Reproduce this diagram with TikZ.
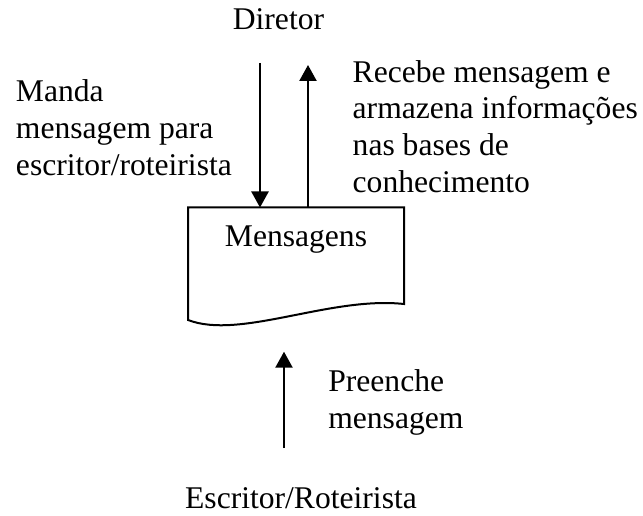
\documentclass[tikz,border=0pt]{standalone}
\usepackage{fontspec}
\setmainfont{Liberation Serif}
\usetikzlibrary{arrows.meta}
\begin{document}
\begin{tikzpicture}[x=1pt,y=-1pt,
  lbl/.style={inner sep=0pt,outer sep=0pt,font=\fontsize{31.6}{36.8}\selectfont,align=left},
  arr/.style={line width=2.3pt,-{Triangle[width=17pt,length=16pt]}},
  docline/.style={line width=2pt,line join=miter}]
\useasboundingbox (0,0) rectangle (643,516);
% document shape
\node[minimum width=216pt,minimum height=112.5pt,inner sep=0pt,outer sep=0pt,anchor=north west] (box) at (188,207.5) {};
\draw[docline] (box.south west) -- (box.north west) -- (box.north east) -- ([yshift=16pt]box.south east)
  .. controls (330,296) and (240,340) .. (box.south west) -- cycle;
\node[lbl,anchor=base] (msg) at (296,246.7) {Mensagens};
% labels (base anchor = baseline of the last line)
\node[lbl,anchor=base] (dir) at (278.5,30) {Diretor};
\node[lbl,anchor=base west] (manda) at (16,175.3) {Manda\\mensagem para\\escritor/roteirista};
\node[lbl,anchor=base west] (recebe) at (352.7,192.4) {Recebe mensagem e\\armazena informações\\nas bases de\\conhecimento};
\node[lbl,anchor=base west] (preenche) at (328.3,428.5) {Preenche\\mensagem};
\node[lbl,anchor=base] (esc) at (301,508.3) {Escritor/Roteirista};
% arrows
\coordinate (a1s) at (260,63);
\coordinate (a2e) at (308,65);
\coordinate (a3s) at (284,448);
\coordinate (a3e) at (284,351.7);
\draw[arr] (a1s) -- (a1s |- box.north);
\draw[arr] (a2e |- box.north) -- (a2e);
\draw[arr] (a3s) -- (a3e);
\end{tikzpicture}
\end{document}
